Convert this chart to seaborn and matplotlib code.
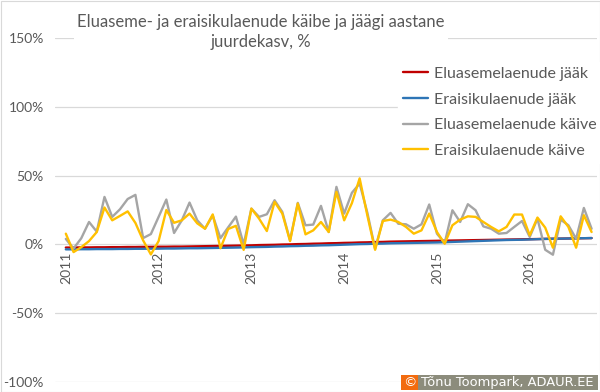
import numpy as np
import pandas as pd
import seaborn as sns
import matplotlib.pyplot as plt
from matplotlib.patches import Rectangle

# ---- data (monthly, Jan 2011 .. Sep 2016) ----
years = ["2011", "2012", "2013", "2014", "2015", "2016"]
series_names = ["Eluasemelaenude jääk", "Eraisikulaenude jääk",
                "Eluasemelaenude käive", "Eraisikulaenude käive"]

eluase_jaak = [-2.3, -2.3, -2.2, -2.2, -2.1, -2.1, -2.0, -2.0, -1.9, -1.9, -1.8, -1.8,
               -1.7, -1.7, -1.6, -1.6, -1.5, -1.4, -1.3, -1.2, -1.1, -1.0, -0.9, -0.8,
               -0.7, -0.5, -0.4, -0.3, -0.1, 0.0, 0.2, 0.3, 0.5, 0.6, 0.8, 0.9,
               1.1, 1.2, 1.4, 1.5, 1.7, 1.8, 2.0, 2.1, 2.2, 2.3, 2.4, 2.5,
               2.6, 2.7, 2.8, 2.9, 3.0, 3.1, 3.2, 3.3, 3.4, 3.5, 3.6, 3.7,
               3.8, 3.9, 4.0, 4.1, 4.2, 4.3, 4.4, 4.5, 4.6]
erais_jaak = [-3.6, -3.6, -3.5, -3.5, -3.4, -3.4, -3.4, -3.3, -3.3, -3.2, -3.2, -3.1,
              -3.1, -3.0, -3.0, -2.9, -2.8, -2.8, -2.7, -2.6, -2.5, -2.4, -2.3, -2.2,
              -2.0, -1.9, -1.8, -1.6, -1.5, -1.3, -1.2, -1.0, -0.9, -0.7, -0.6, -0.4,
              -0.2, 0.0, 0.2, 0.3, 0.5, 0.6, 0.8, 0.9, 1.0, 1.1, 1.2, 1.3,
              1.4, 1.6, 1.8, 2.0, 2.2, 2.4, 2.6, 2.8, 3.0, 3.2, 3.3, 3.4,
              3.6, 3.8, 4.0, 4.1, 4.2, 4.3, 4.4, 4.5, 4.6]
eluase_kaive = [4.0, -3.0, 4.5, 16.3, 9.3, 34.5, 20.0, 25.5, 33.0, 36.0, 4.6, 7.5,
                20.0, 32.6, 8.3, 17.5, 30.4, 17.5, 11.4, 21.0, 4.5, 12.4, 20.2, 0.0,
                26.0, 20.0, 21.9, 32.1, 23.6, 2.9, 30.2, 13.9, 14.4, 28.0, 9.0, 41.8,
                22.4, 37.5, 44.2, 23.0, -3.2, 17.5, 22.9, 15.0, 14.6, 11.4, 14.6, 29.0,
                7.8, 1.0, 24.8, 16.3, 29.2, 24.8, 13.1, 11.4, 7.8, 8.3, 12.7, 17.0,
                5.4, 18.7, -3.9, -7.5, 18.0, 13.9, 4.1, 26.5, 11.4]
erais_kaive = [7.8, -5.6, -2.0, 2.4, 9.0, 26.8, 17.5, 20.7, 24.0, 15.6, 2.9, -7.3,
               2.4, 25.0, 15.7, 17.5, 22.4, 15.3, 11.4, 21.8, -2.8, 11.2, 13.5, -4.0,
               26.0, 18.7, 9.7, 30.9, 22.4, 2.4, 29.7, 7.3, 10.2, 16.3, 9.0, 38.2,
               17.5, 30.0, 48.0, 21.0, -3.9, 17.0, 18.0, 16.3, 12.7, 7.8, 10.2, 22.4,
               9.0, 0.5, 13.9, 18.0, 20.4, 20.0, 16.3, 12.7, 9.5, 12.7, 21.7, 21.7,
               6.6, 19.5, 12.2, -2.4, 20.4, 12.7, -2.4, 21.2, 9.0]

colors = ["#c00000", "#2e75b6", "#a5a5a5", "#ffc000"]

frames = []
for name, vals in zip(series_names, [eluase_jaak, erais_jaak, eluase_kaive, erais_kaive]):
    frames.append(pd.DataFrame({"month": np.arange(len(vals)), "value": vals, "series": name}))
df = pd.concat(frames, ignore_index=True)

sns.set_theme(style="white")
plt.rcParams["font.family"] = ["Lato", "DejaVu Sans"]
TXT = "#595959"

fig = plt.figure(figsize=(6.0, 3.92), dpi=100)
ax = fig.add_axes([55 / 600, 1 - 382 / 392, (597 - 55) / 600, (382 - 38) / 392])

sns.lineplot(data=df, x="month", y="value", hue="series", hue_order=series_names,
             palette=colors, linewidth=1.7, ax=ax, legend=True)

ax.set_ylim(-100, 150)
ax.set_xlim(-1.4, 68.7)
ax.set_yticks([-100, -50, 0, 50, 100, 150])
ax.set_yticklabels(["-100%", "-50%", "0%", "50%", "100%", "150%"], color=TXT, fontsize=10)
ax.tick_params(axis="y", length=0, pad=8)
ax.grid(axis="y", color="#d9d9d9", linewidth=0.9)
ax.set_axisbelow(True)
for s in ax.spines.values():
    s.set_visible(False)
ax.set_xticks([])
ax.set_xlabel("")
ax.set_ylabel("")

# year labels sit next to the 0% axis
for i, y in enumerate(years):
    ax.annotate(y, xy=(i * 12, 0), xytext=(0, -5), textcoords="offset points",
                rotation=90, ha="center", va="top", color=TXT, fontsize=10)

# legend
handles, labels = ax.get_legend_handles_labels()
ax.legend_.remove()
leg = fig.legend(handles, labels, loc="upper left", bbox_to_anchor=(398 / 600, 1 - 62 / 392),
                 frameon=True, facecolor="white", edgecolor="white", framealpha=1,
                 fontsize=11.5, handlelength=1.6, handletextpad=0.35, labelspacing=0.72,
                 borderaxespad=0, borderpad=0.3)
for t in leg.get_texts():
    t.set_color(TXT)

# title
fig.text(261 / 600, 1 - 32 / 392, "Eluaseme- ja eraisikulaenude käibe ja jäägi aastane\njuurdekasv, %",
         ha="center", va="center", color=TXT, fontsize=12, linespacing=1.35,
         bbox=dict(facecolor="white", edgecolor="none", pad=2))

# credit box
fig.patches.append(Rectangle((401 / 600, 2 / 392), 17 / 600, 15 / 392, transform=fig.transFigure,
                             facecolor="#f26b0f", edgecolor="none"))
fig.patches.append(Rectangle((418 / 600, 2 / 392), 180 / 600, 15 / 392, transform=fig.transFigure,
                             facecolor="#8c8c7c", edgecolor="none"))
fig.text(409.5 / 600, 9.5 / 392, "©", ha="center", va="center", color="white", fontsize=9.5,
         family=["DejaVu Sans"])
fig.text(507 / 600, 9.5 / 392, "Tõnu Toompark, ADAUR.EE", ha="center", va="center",
         color="white", fontsize=9.4, family=["DejaVu Sans"])

# outer border
fig.patches.append(Rectangle((0.5 / 600, 0.5 / 392), 599 / 600, 391 / 392, transform=fig.transFigure,
                             facecolor="none", edgecolor="#d9d9d9", linewidth=0.8))

fig.savefig("out.png", dpi=100)
